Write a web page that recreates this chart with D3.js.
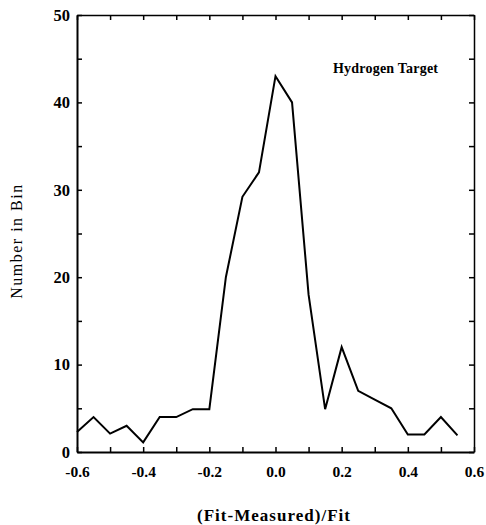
<!DOCTYPE html>
<html>
<head>
<meta charset="utf-8">
<script src="https://cdn.jsdelivr.net/npm/d3@7"></script>
<style>
  body { margin: 0; background: #fff; }
  svg { display: block; }
</style>
</head>
<body>
<div id="wrapper"></div>
<script>
// bin centres and counts
const binCenters = [-0.6, -0.55, -0.5, -0.45, -0.4, -0.35, -0.3, -0.25, -0.2, -0.15,
  -0.1, -0.05, 0.0, 0.05, 0.1, 0.15, 0.2, 0.25, 0.3, 0.35, 0.4, 0.45, 0.5, 0.55]
const binCounts = [2.3, 4, 2.1, 3, 1.1, 4, 4, 4.9, 4.9, 20,
  29.2, 32, 43, 40, 18, 4.9, 12, 7, 6, 5, 2, 2, 4, 1.9]

const xTicks = [-0.6, -0.5, -0.4, -0.3, -0.2, -0.1, 0.0, 0.1, 0.2, 0.3, 0.4, 0.5, 0.6]
const yTicks = [0, 5, 10, 15, 20, 25, 30, 35, 40, 45, 50]

const xLabel = "(Fit-Measured)/Fit"
const yLabel = "Number in Bin"
const note = "Hydrogen Target"

function drawChart() {
  let dimensions = {
    width: 486,
    height: 525,
    margin: { top: 15, right: 12, bottom: 73, left: 77 }
  }
  dimensions.boundedWidth = dimensions.width - dimensions.margin.left - dimensions.margin.right
  dimensions.boundedHeight = dimensions.height - dimensions.margin.top - dimensions.margin.bottom

  const serif = "'Liberation Serif', 'Times New Roman', serif"

  const wrapper = d3.select("#wrapper")
    .append("svg")
      .attr("width", dimensions.width)
      .attr("height", dimensions.height)

  const bounds = wrapper.append("g")
    .attr("transform", `translate(${dimensions.margin.left},${dimensions.margin.top})`)

  const xScale = d3.scaleLinear()
    .domain([-0.6, 0.6])
    .range([0, dimensions.boundedWidth])

  const yScale = d3.scaleLinear()
    .domain([0, 50])
    .range([dimensions.boundedHeight, 0])

  // labels only on every other tick
  const xFormat = d => Math.round(d * 10) % 2 === 0 ? (Math.abs(d) < 1e-9 ? "0.0" : d.toFixed(1)) : ""
  const yFormat = d => d % 10 === 0 ? d : ""

  // axes, ticks pointing inward
  const xAxis = bounds.append("g")
    .attr("transform", `translate(0,${dimensions.boundedHeight})`)
    .call(d3.axisBottom(xScale).tickValues(xTicks).tickFormat(xFormat)
      .tickSizeInner(-5).tickSizeOuter(0).tickPadding(14))

  const xAxisTop = bounds.append("g")
    .call(d3.axisTop(xScale).tickValues(xTicks).tickFormat("")
      .tickSizeInner(-5).tickSizeOuter(0))

  const yAxis = bounds.append("g")
    .call(d3.axisLeft(yScale).tickValues(yTicks).tickFormat(yFormat)
      .tickSizeInner(-5).tickSizeOuter(0).tickPadding(7))

  const yAxisRight = bounds.append("g")
    .attr("transform", `translate(${dimensions.boundedWidth},0)`)
    .call(d3.axisRight(yScale).tickValues(yTicks).tickFormat("")
      .tickSizeInner(-5).tickSizeOuter(0))

  bounds.selectAll(".domain")
    .attr("stroke", "#000")
    .attr("stroke-width", 2)
  xAxisTop.select(".domain").attr("stroke-width", 1.5)
  yAxisRight.select(".domain").attr("stroke-width", 1.5)
  bounds.selectAll(".tick line")
    .attr("stroke", "#000")
    .attr("stroke-width", 1.5)
  bounds.selectAll(".tick text")
    .attr("fill", "#000")
    .style("font-family", serif)
    .style("font-weight", "bold")
    .style("font-size", "16.5px")
  xAxis.selectAll(".tick text")
    .style("font-size", "15.5px")

  // the histogram outline
  const lineGenerator = d3.line()
    .x((d, i) => xScale(binCenters[i]))
    .y(d => yScale(d))

  bounds.append("path")
    .datum(binCounts)
    .attr("d", lineGenerator)
    .attr("fill", "none")
    .attr("stroke", "#000")
    .attr("stroke-width", 2)
    .attr("stroke-linejoin", "miter")

  // annotation
  bounds.append("text")
    .attr("x", 333 - dimensions.margin.left)
    .attr("y", 73 - dimensions.margin.top)
    .text(note)
    .attr("textLength", 105)
    .style("font-family", serif)
    .style("font-weight", "bold")
    .style("font-size", "14px")

  // axis titles
  wrapper.append("text")
    .attr("x", 197)
    .attr("y", 521)
    .text(xLabel)
    .attr("textLength", 153)
    .style("font-family", serif)
    .style("font-weight", "bold")
    .style("font-size", "17px")

  wrapper.append("text")
    .attr("transform", "translate(22,241) rotate(-90)")
    .attr("text-anchor", "middle")
    .text(yLabel)
    .style("font-family", serif)
    .style("font-size", "16px")
    .style("letter-spacing", "1.5px")
}

drawChart()
</script>
</body>
</html>
